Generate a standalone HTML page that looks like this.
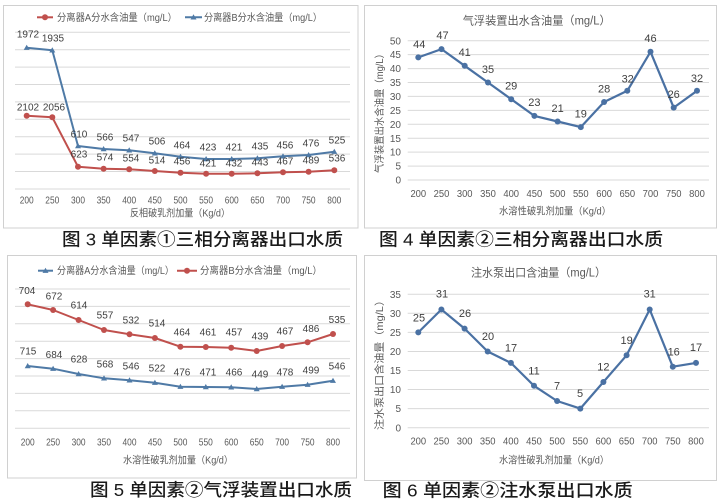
<!DOCTYPE html>
<html><head><meta charset="utf-8"><style>
html,body{margin:0;padding:0;background:#fff;}
svg{display:block;}
text{font-family:"Liberation Sans","Noto Sans CJK SC",sans-serif;}
.t{fill:#595959;font-size:10px;}
.k{fill:#595959;font-size:10.5px;}
.d{fill:#404040;font-size:10px;text-anchor:middle;}
.c{fill:#1a1a1a;font-size:17.5px;font-weight:500;}
.g{stroke:#d9d9d9;stroke-width:1;}
</style></head><body>
<svg width="722" height="501" viewBox="0 0 722 501" xmlns="http://www.w3.org/2000/svg">
<rect x="0" y="0" width="722" height="501" fill="#fff"/>
<rect x="3.5" y="5.5" width="354.5" height="222.5" fill="#fff" stroke="#d0d0d0"/>
<rect x="364.5" y="5.5" width="352" height="222.5" fill="#fff" stroke="#d0d0d0"/>
<rect x="7.5" y="255.5" width="349" height="222.5" fill="#fff" stroke="#d0d0d0"/>
<rect x="364.5" y="255.5" width="352" height="225" fill="#fff" stroke="#d0d0d0"/>

<!-- ============ PANEL 1 ============ -->
<g class="g">
<line x1="15" y1="32.3" x2="350" y2="32.3"/><line x1="15" y1="49.7" x2="350" y2="49.7"/>
<line x1="15" y1="67.1" x2="350" y2="67.1"/><line x1="15" y1="84.5" x2="350" y2="84.5"/>
<line x1="15" y1="101.9" x2="350" y2="101.9"/><line x1="15" y1="119.3" x2="350" y2="119.3"/>
<line x1="15" y1="136.7" x2="350" y2="136.7"/><line x1="15" y1="154.1" x2="350" y2="154.1"/>
<line x1="15" y1="171.5" x2="350" y2="171.5"/><line x1="15" y1="189" x2="350" y2="189"/>
</g>
<line x1="37" y1="17.3" x2="53" y2="17.3" stroke="#c0504d" stroke-width="2"/>
<circle cx="45" cy="17.3" r="3" fill="#c0504d"/>
<text class="t" x="57" y="20.8" textLength="120" lengthAdjust="spacingAndGlyphs">分离器A分水含油量（mg/L）</text>
<line x1="185" y1="17.3" x2="202" y2="17.3" stroke="#4f7aa6" stroke-width="2"/>
<polygon points="193.5,14.3 196.5,19.5 190.5,19.5" fill="#4f7aa6"/>
<text class="t" x="204" y="20.8" textLength="118" lengthAdjust="spacingAndGlyphs">分离器B分水含油量（mg/L）</text>
<polyline fill="none" stroke="#4f7aa6" stroke-width="2" stroke-linejoin="round" points="26.7,47.7 52.3,50.3 78,146 103.6,149 129.2,150.3 154.8,153.3 180.5,156.7 206.1,159 231.7,159 257.4,158.3 283,156.3 308.6,155 334.3,151.7"/>
<g fill="#4f7aa6">
<polygon points="26.7,44.7 29.7,49.9 23.7,49.9"/><polygon points="52.3,47.3 55.3,52.5 49.3,52.5"/>
<polygon points="78,143 81,148.2 75,148.2"/><polygon points="103.6,146 106.6,151.2 100.6,151.2"/>
<polygon points="129.2,147.3 132.2,152.5 126.2,152.5"/><polygon points="154.8,150.3 157.8,155.5 151.8,155.5"/>
<polygon points="180.5,153.7 183.5,158.9 177.5,158.9"/><polygon points="206.1,156 209.1,161.2 203.1,161.2"/>
<polygon points="231.7,156 234.7,161.2 228.7,161.2"/><polygon points="257.4,155.3 260.4,160.5 254.4,160.5"/>
<polygon points="283,153.3 286,158.5 280,158.5"/><polygon points="308.6,152 311.6,157.2 305.6,157.2"/>
<polygon points="334.3,148.7 337.3,153.9 331.3,153.9"/>
</g>
<polyline fill="none" stroke="#c0504d" stroke-width="2" stroke-linejoin="round" points="26.7,115.7 52.3,117.3 78,166.7 103.6,168.7 129.2,169.3 154.8,171 180.5,172.7 206.1,173.7 231.7,173.7 257.4,173.3 283,172.3 308.6,171.7 334.3,170.3"/>
<g fill="#c0504d">
<circle cx="26.7" cy="115.7" r="3"/><circle cx="52.3" cy="117.3" r="3"/><circle cx="78" cy="166.7" r="3"/>
<circle cx="103.6" cy="168.7" r="3"/><circle cx="129.2" cy="169.3" r="3"/><circle cx="154.8" cy="171" r="3"/>
<circle cx="180.5" cy="172.7" r="3"/><circle cx="206.1" cy="173.7" r="3"/><circle cx="231.7" cy="173.7" r="3"/>
<circle cx="257.4" cy="173.3" r="3"/><circle cx="283" cy="172.3" r="3"/><circle cx="308.6" cy="171.7" r="3"/>
<circle cx="334.3" cy="170.3" r="3"/>
</g>
<g class="d">
<text x="28" y="37.6">1972</text><text x="53" y="41.6">1935</text>
<text x="79" y="137.6">610</text><text x="105" y="140.6">566</text><text x="131" y="141.6">547</text>
<text x="157" y="144.6">506</text><text x="182" y="148.6">464</text><text x="208" y="150.6">423</text>
<text x="234" y="150.6">421</text><text x="260" y="149.6">435</text><text x="285" y="148.6">456</text>
<text x="311" y="146.6">476</text><text x="337" y="143.6">525</text>
<text x="28" y="110.6">2102</text><text x="54" y="110.6">2056</text>
<text x="79" y="157.6">623</text><text x="105" y="160.6">574</text><text x="131" y="161.3">554</text>
<text x="157" y="163.6">514</text><text x="182" y="164.6">456</text><text x="208" y="166.6">421</text>
<text x="234" y="166.6">432</text><text x="260" y="165.6">443</text><text x="285" y="164.6">467</text>
<text x="311" y="163.6">489</text><text x="337" y="161.6">536</text>
</g>
<g class="k" text-anchor="middle">
<text x="26.7" y="203.3" textLength="14" lengthAdjust="spacingAndGlyphs">200</text>
<text x="52.3" y="203.3" textLength="14" lengthAdjust="spacingAndGlyphs">250</text>
<text x="78" y="203.3" textLength="14" lengthAdjust="spacingAndGlyphs">300</text>
<text x="103.6" y="203.3" textLength="14" lengthAdjust="spacingAndGlyphs">350</text>
<text x="129.2" y="203.3" textLength="14" lengthAdjust="spacingAndGlyphs">400</text>
<text x="154.8" y="203.3" textLength="14" lengthAdjust="spacingAndGlyphs">450</text>
<text x="180.5" y="203.3" textLength="14" lengthAdjust="spacingAndGlyphs">500</text>
<text x="206.1" y="203.3" textLength="14" lengthAdjust="spacingAndGlyphs">550</text>
<text x="231.7" y="203.3" textLength="14" lengthAdjust="spacingAndGlyphs">600</text>
<text x="257.4" y="203.3" textLength="14" lengthAdjust="spacingAndGlyphs">650</text>
<text x="283" y="203.3" textLength="14" lengthAdjust="spacingAndGlyphs">700</text>
<text x="308.6" y="203.3" textLength="14" lengthAdjust="spacingAndGlyphs">750</text>
<text x="334.3" y="203.3" textLength="14" lengthAdjust="spacingAndGlyphs">800</text>
</g>
<text class="t" x="130" y="216.5" textLength="100" lengthAdjust="spacingAndGlyphs">反相破乳剂加量（Kg/d）</text>
<text class="c" x="62" y="245.5" textLength="281" lengthAdjust="spacingAndGlyphs">图 3 单因素①三相分离器出口水质</text>

<!-- ============ PANEL 2 ============ -->
<text class="t" x="462.7" y="24.5" textLength="148" lengthAdjust="spacingAndGlyphs" style="font-size:11.5px">气浮装置出水含油量（mg/L）</text>
<g class="g">
<line x1="407.7" y1="40.7" x2="709" y2="40.7"/><line x1="407.7" y1="54.6" x2="709" y2="54.6"/>
<line x1="407.7" y1="68.6" x2="709" y2="68.6"/><line x1="407.7" y1="82.5" x2="709" y2="82.5"/>
<line x1="407.7" y1="96.4" x2="709" y2="96.4"/><line x1="407.7" y1="110.4" x2="709" y2="110.4"/>
<line x1="407.7" y1="124.3" x2="709" y2="124.3"/><line x1="407.7" y1="138.2" x2="709" y2="138.2"/>
<line x1="407.7" y1="152.1" x2="709" y2="152.1"/><line x1="407.7" y1="166.1" x2="709" y2="166.1"/>
<line x1="407.7" y1="180" x2="709" y2="180"/>
</g>
<g class="t" text-anchor="end">
<text x="401" y="44.3">50</text><text x="401" y="58.2">45</text><text x="401" y="72.2">40</text>
<text x="401" y="86.1">35</text><text x="401" y="100">30</text><text x="401" y="114">25</text>
<text x="401" y="127.9">20</text><text x="401" y="141.8">15</text><text x="401" y="155.7">10</text>
<text x="401" y="169.7">5</text><text x="401" y="183.6">0</text>
</g>
<text class="t" transform="translate(382.8,111) rotate(-90)" text-anchor="middle" textLength="124" lengthAdjust="spacingAndGlyphs">气浮装置出水含油量（mg/L）</text>
<polyline fill="none" stroke="#4a71a3" stroke-width="2.2" stroke-linejoin="round" points="418.3,57.4 441.5,49.1 464.7,65.8 488,82.5 511.2,99.2 534.4,115.9 557.6,121.5 580.8,127.1 604.1,102 627.3,90.8 650.5,51.8 673.7,107.6 697,90.8"/>
<g fill="#4a71a3">
<circle cx="418.3" cy="57.4" r="3"/><circle cx="441.5" cy="49.1" r="3"/><circle cx="464.7" cy="65.8" r="3"/>
<circle cx="488" cy="82.5" r="3"/><circle cx="511.2" cy="99.2" r="3"/><circle cx="534.4" cy="115.9" r="3"/>
<circle cx="557.6" cy="121.5" r="3"/><circle cx="580.8" cy="127.1" r="3"/><circle cx="604.1" cy="102" r="3"/>
<circle cx="627.3" cy="90.8" r="3"/><circle cx="650.5" cy="51.8" r="3"/><circle cx="673.7" cy="107.6" r="3"/>
<circle cx="697" cy="90.8" r="3"/>
</g>
<g class="d" style="font-size:11px">
<text x="419.3" y="48.2">44</text><text x="442.5" y="39">47</text><text x="464.7" y="56.2">41</text>
<text x="488" y="73">35</text><text x="511.2" y="89.5">29</text><text x="534.4" y="106.2">23</text>
<text x="557.6" y="111.8">21</text><text x="580.8" y="117.4">19</text><text x="604.1" y="92.3">28</text>
<text x="627.7" y="82.4">32</text><text x="650.5" y="42.1">46</text><text x="673.7" y="97.9">26</text>
<text x="697" y="82">32</text>
</g>
<g class="t" text-anchor="middle">
<text x="418.3" y="197" textLength="15.7" lengthAdjust="spacingAndGlyphs">200</text>
<text x="441.5" y="197" textLength="15.7" lengthAdjust="spacingAndGlyphs">250</text>
<text x="464.7" y="197" textLength="15.7" lengthAdjust="spacingAndGlyphs">300</text>
<text x="488" y="197" textLength="15.7" lengthAdjust="spacingAndGlyphs">350</text>
<text x="511.2" y="197" textLength="15.7" lengthAdjust="spacingAndGlyphs">400</text>
<text x="534.4" y="197" textLength="15.7" lengthAdjust="spacingAndGlyphs">450</text>
<text x="557.6" y="197" textLength="15.7" lengthAdjust="spacingAndGlyphs">500</text>
<text x="580.8" y="197" textLength="15.7" lengthAdjust="spacingAndGlyphs">550</text>
<text x="604.1" y="197" textLength="15.7" lengthAdjust="spacingAndGlyphs">600</text>
<text x="627.3" y="197" textLength="15.7" lengthAdjust="spacingAndGlyphs">650</text>
<text x="650.5" y="197" textLength="15.7" lengthAdjust="spacingAndGlyphs">700</text>
<text x="673.7" y="197" textLength="15.7" lengthAdjust="spacingAndGlyphs">750</text>
<text x="697" y="197" textLength="15.7" lengthAdjust="spacingAndGlyphs">800</text>
</g>
<text class="t" x="499" y="214.3" textLength="112" lengthAdjust="spacingAndGlyphs">水溶性破乳剂加量（Kg/d）</text>
<text class="c" x="379" y="245.5" textLength="284" lengthAdjust="spacingAndGlyphs">图 4 单因素②三相分离器出口水质</text>

<!-- ============ PANEL 3 ============ -->
<g class="g">
<line x1="15" y1="289" x2="350" y2="289"/><line x1="15" y1="306.4" x2="350" y2="306.4"/>
<line x1="15" y1="323.8" x2="350" y2="323.8"/><line x1="15" y1="341.2" x2="350" y2="341.2"/>
<line x1="15" y1="358.6" x2="350" y2="358.6"/><line x1="15" y1="376" x2="350" y2="376"/>
<line x1="15" y1="393.4" x2="350" y2="393.4"/><line x1="15" y1="410.8" x2="350" y2="410.8"/>
<line x1="15" y1="428.2" x2="350" y2="428.2"/>
</g>
<line x1="38" y1="270.7" x2="53" y2="270.7" stroke="#4f7aa6" stroke-width="2"/>
<polygon points="45.5,267.7 48.5,272.9 42.5,272.9" fill="#4f7aa6"/>
<text class="t" x="57" y="274.2" textLength="117" lengthAdjust="spacingAndGlyphs">分离器A分水含油量（mg/L）</text>
<line x1="177" y1="270.7" x2="197" y2="270.7" stroke="#c0504d" stroke-width="2"/>
<circle cx="187" cy="270.7" r="3" fill="#c0504d"/>
<text class="t" x="200" y="274.2" textLength="122" lengthAdjust="spacingAndGlyphs">分离器B分水含油量（mg/L）</text>
<polyline fill="none" stroke="#c0504d" stroke-width="2" stroke-linejoin="round" points="27.7,304.3 53.1,310 78.6,320 104,330 129.5,334.3 154.9,338 180.4,346.7 205.8,347 231.2,347.7 256.7,351 282.1,346 307.6,342.3 333,334"/>
<g fill="#c0504d">
<circle cx="27.7" cy="304.3" r="3"/><circle cx="53.1" cy="310" r="3"/><circle cx="78.6" cy="320" r="3"/>
<circle cx="104" cy="330" r="3"/><circle cx="129.5" cy="334.3" r="3"/><circle cx="154.9" cy="338" r="3"/>
<circle cx="180.4" cy="346.7" r="3"/><circle cx="205.8" cy="347" r="3"/><circle cx="231.2" cy="347.7" r="3"/>
<circle cx="256.7" cy="351" r="3"/><circle cx="282.1" cy="346" r="3"/><circle cx="307.6" cy="342.3" r="3"/>
<circle cx="333" cy="334" r="3"/>
</g>
<polyline fill="none" stroke="#4f7aa6" stroke-width="2" stroke-linejoin="round" points="27.7,366 53.1,368.7 78.6,374 104,378.3 129.5,380.3 154.9,382.7 180.4,386.7 205.8,387 231.2,387.3 256.7,389 282.1,386.7 307.6,384.7 333,380.7"/>
<g fill="#4f7aa6">
<polygon points="27.7,363 30.7,368.2 24.7,368.2"/><polygon points="53.1,365.7 56.1,370.9 50.1,370.9"/>
<polygon points="78.6,371 81.6,376.2 75.6,376.2"/><polygon points="104,375.3 107,380.5 101,380.5"/>
<polygon points="129.5,377.3 132.5,382.5 126.5,382.5"/><polygon points="154.9,379.7 157.9,384.9 151.9,384.9"/>
<polygon points="180.4,383.7 183.4,388.9 177.4,388.9"/><polygon points="205.8,384 208.8,389.2 202.8,389.2"/>
<polygon points="231.2,384.3 234.2,389.5 228.2,389.5"/><polygon points="256.7,386 259.7,391.2 253.7,391.2"/>
<polygon points="282.1,383.7 285.1,388.9 279.1,388.9"/><polygon points="307.6,381.7 310.6,386.9 304.6,386.9"/>
<polygon points="333,377.7 336,382.9 330,382.9"/>
</g>
<g class="d">
<text x="27" y="294">704</text><text x="54" y="299.3">672</text><text x="79" y="308.6">614</text>
<text x="105" y="318.6">557</text><text x="131" y="323.6">532</text><text x="157" y="326.3">514</text>
<text x="182" y="335.3">464</text><text x="208" y="335.3">461</text><text x="234" y="335.3">457</text>
<text x="260" y="339.6">439</text><text x="285" y="334.3">467</text><text x="311" y="331.9">486</text>
<text x="337" y="322.9">535</text>
<text x="28" y="354.3">715</text><text x="54" y="357.9">684</text><text x="79" y="362.6">628</text>
<text x="105" y="367.6">568</text><text x="131" y="369.3">546</text><text x="157" y="371.6">522</text>
<text x="182" y="375.3">476</text><text x="208" y="375.3">471</text><text x="234" y="375.3">466</text>
<text x="260" y="377.6">449</text><text x="285" y="375.3">478</text><text x="311" y="373.6">499</text>
<text x="337" y="369.3">546</text>
</g>
<g class="k" text-anchor="middle">
<text x="27.7" y="445.5" textLength="14" lengthAdjust="spacingAndGlyphs">200</text>
<text x="53.1" y="445.5" textLength="14" lengthAdjust="spacingAndGlyphs">250</text>
<text x="78.6" y="445.5" textLength="14" lengthAdjust="spacingAndGlyphs">300</text>
<text x="104" y="445.5" textLength="14" lengthAdjust="spacingAndGlyphs">350</text>
<text x="129.5" y="445.5" textLength="14" lengthAdjust="spacingAndGlyphs">400</text>
<text x="154.9" y="445.5" textLength="14" lengthAdjust="spacingAndGlyphs">450</text>
<text x="180.4" y="445.5" textLength="14" lengthAdjust="spacingAndGlyphs">500</text>
<text x="205.8" y="445.5" textLength="14" lengthAdjust="spacingAndGlyphs">550</text>
<text x="231.2" y="445.5" textLength="14" lengthAdjust="spacingAndGlyphs">600</text>
<text x="256.7" y="445.5" textLength="14" lengthAdjust="spacingAndGlyphs">650</text>
<text x="282.1" y="445.5" textLength="14" lengthAdjust="spacingAndGlyphs">700</text>
<text x="307.6" y="445.5" textLength="14" lengthAdjust="spacingAndGlyphs">750</text>
<text x="333" y="445.5" textLength="14" lengthAdjust="spacingAndGlyphs">800</text>
</g>
<text class="t" x="123" y="463.5" textLength="110" lengthAdjust="spacingAndGlyphs">水溶性破乳剂加量（Kg/d）</text>
<text class="c" x="90" y="495.8" textLength="262" lengthAdjust="spacingAndGlyphs">图 5 单因素②气浮装置出口水质</text>

<!-- ============ PANEL 4 ============ -->
<text class="t" x="471" y="276.5" textLength="135" lengthAdjust="spacingAndGlyphs" style="font-size:11.5px">注水泵出口含油量（mg/L）</text>
<g class="g">
<line x1="407.7" y1="294.3" x2="709" y2="294.3"/><line x1="407.7" y1="313.3" x2="709" y2="313.3"/>
<line x1="407.7" y1="332.4" x2="709" y2="332.4"/><line x1="407.7" y1="351.5" x2="709" y2="351.5"/>
<line x1="407.7" y1="370.5" x2="709" y2="370.5"/><line x1="407.7" y1="389.5" x2="709" y2="389.5"/>
<line x1="407.7" y1="408.6" x2="709" y2="408.6"/><line x1="407.7" y1="427.7" x2="709" y2="427.7"/>
</g>
<g class="t" text-anchor="end">
<text x="401" y="297.9">35</text><text x="401" y="316.9">30</text><text x="401" y="336">25</text>
<text x="401" y="355.1">20</text><text x="401" y="374.1">15</text><text x="401" y="393.1">10</text>
<text x="401" y="412.2">5</text><text x="401" y="431.3">0</text>
</g>
<text class="t" transform="translate(382.8,362.5) rotate(-90)" text-anchor="middle" textLength="135" lengthAdjust="spacingAndGlyphs">注水泵出口含油量（mg/L）</text>
<polyline fill="none" stroke="#4a71a3" stroke-width="2.2" stroke-linejoin="round" points="418.3,332.4 441.4,309.5 464.6,328.6 487.7,351.5 510.9,362.9 534,385.8 557.1,401 580.3,408.6 603.4,382 626.6,355.3 649.7,309.5 672.8,366.7 696,362.9"/>
<g fill="#4a71a3">
<circle cx="418.3" cy="332.4" r="3"/><circle cx="441.4" cy="309.5" r="3"/><circle cx="464.6" cy="328.6" r="3"/>
<circle cx="487.7" cy="351.5" r="3"/><circle cx="510.9" cy="362.9" r="3"/><circle cx="534" cy="385.8" r="3"/>
<circle cx="557.1" cy="401" r="3"/><circle cx="580.3" cy="408.6" r="3"/><circle cx="603.4" cy="382" r="3"/>
<circle cx="626.6" cy="355.3" r="3"/><circle cx="649.7" cy="309.5" r="3"/><circle cx="672.8" cy="366.7" r="3"/>
<circle cx="696" cy="362.9" r="3"/>
</g>
<g class="d" style="font-size:11px">
<text x="419" y="321.5">25</text><text x="442" y="297.3">31</text><text x="465" y="317.2">26</text>
<text x="488" y="340.1">20</text><text x="511" y="351.5">17</text><text x="534" y="374.4">11</text>
<text x="557" y="389.6">7</text><text x="580" y="397.2">5</text><text x="603.4" y="370.6">12</text>
<text x="626.6" y="343.9">19</text><text x="649.7" y="297.3">31</text><text x="673.7" y="355.5">16</text>
<text x="696" y="351.1">17</text>
</g>
<g class="t" text-anchor="middle">
<text x="418.3" y="444.6" textLength="15.7" lengthAdjust="spacingAndGlyphs">200</text>
<text x="441.4" y="444.6" textLength="15.7" lengthAdjust="spacingAndGlyphs">250</text>
<text x="464.6" y="444.6" textLength="15.7" lengthAdjust="spacingAndGlyphs">300</text>
<text x="487.7" y="444.6" textLength="15.7" lengthAdjust="spacingAndGlyphs">350</text>
<text x="510.9" y="444.6" textLength="15.7" lengthAdjust="spacingAndGlyphs">400</text>
<text x="534" y="444.6" textLength="15.7" lengthAdjust="spacingAndGlyphs">450</text>
<text x="557.1" y="444.6" textLength="15.7" lengthAdjust="spacingAndGlyphs">500</text>
<text x="580.3" y="444.6" textLength="15.7" lengthAdjust="spacingAndGlyphs">550</text>
<text x="603.4" y="444.6" textLength="15.7" lengthAdjust="spacingAndGlyphs">600</text>
<text x="626.6" y="444.6" textLength="15.7" lengthAdjust="spacingAndGlyphs">650</text>
<text x="649.7" y="444.6" textLength="15.7" lengthAdjust="spacingAndGlyphs">700</text>
<text x="672.8" y="444.6" textLength="15.7" lengthAdjust="spacingAndGlyphs">750</text>
<text x="696" y="444.6" textLength="15.7" lengthAdjust="spacingAndGlyphs">800</text>
</g>
<text class="t" x="499" y="463.5" textLength="110" lengthAdjust="spacingAndGlyphs">水溶性破乳剂加量（Kg/d）</text>
<text class="c" x="382.7" y="496.5" textLength="250" lengthAdjust="spacingAndGlyphs">图 6  单因素②注水泵出口水质</text>
</svg>
</body></html>
